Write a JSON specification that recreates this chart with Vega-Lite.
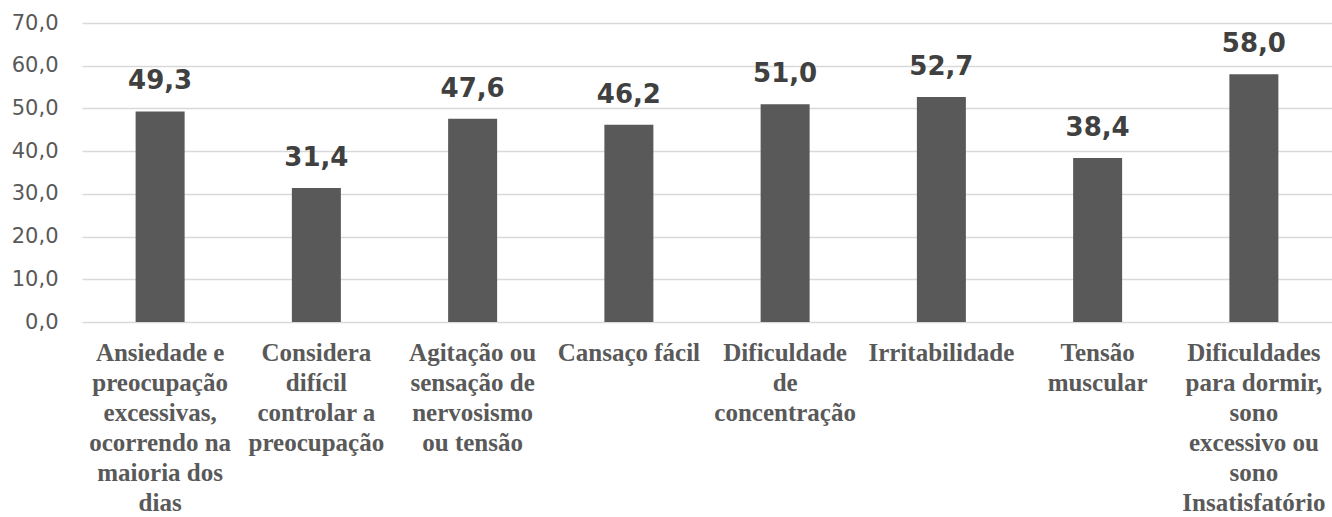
{
  "$schema": "https://vega.github.io/schema/vega-lite/v6.json",
  "autosize": {"type": "none"},
  "padding": {"left": 82, "top": 23, "right": 0, "bottom": 195},
  "width": 1250,
  "height": 299,
  "background": "white",
  "config": {
    "locale": {"number": {"decimal": ",", "thousands": ".", "grouping": [3], "currency": ["", ""]}},
    "view": {"stroke": null}
  },
  "data": {
    "values": [
      {"sintoma": "Ansiedade e|preocupação|excessivas,|ocorrendo na|maioria dos|dias", "valor": 49.3},
      {"sintoma": "Considera|difícil|controlar a|preocupação", "valor": 31.4},
      {"sintoma": "Agitação ou|sensação de|nervosismo|ou tensão", "valor": 47.6},
      {"sintoma": "Cansaço fácil", "valor": 46.2},
      {"sintoma": "Dificuldade|de|concentração", "valor": 51.0},
      {"sintoma": "Irritabilidade", "valor": 52.7},
      {"sintoma": "Tensão|muscular", "valor": 38.4},
      {"sintoma": "Dificuldades|para dormir,|sono|excessivo ou|sono|Insatisfatório", "valor": 58.0}
    ]
  },
  "encoding": {
    "x": {
      "field": "sintoma", "type": "nominal", "sort": null, "title": null,
      "scale": {"paddingInner": 0.2, "paddingOuter": 0.1},
      "axis": {
        "labelAngle": 0, "domain": false, "ticks": false,
        "labelExpr": "split(datum.label, '|')",
        "labelFont": "Liberation Serif", "labelFontWeight": "bold", "labelFontSize": 25,
        "labelLineHeight": 30, "labelColor": "#595959", "labelPadding": 18,
        "labelLimit": 0, "labelBaseline": "top"
      }
    },
    "y": {
      "field": "valor", "type": "quantitative", "title": null,
      "scale": {"domain": [0, 70], "nice": false},
      "axis": {
        "values": [0, 10, 20, 30, 40, 50, 60, 70], "format": ".1f",
        "domain": false, "ticks": false, "grid": true, "gridColor": "#d9d9d9", "gridWidth": 1.5,
        "labelFont": "DejaVu Sans", "labelFontSize": 21, "labelColor": "#595959", "labelPadding": 24
      }
    }
  },
  "layer": [
    {"mark": {"type": "bar", "color": "#595959", "size": 49}},
    {
      "mark": {"type": "text", "baseline": "alphabetic", "dy": -22, "font": "DejaVu Sans", "fontWeight": "bold", "fontSize": 26, "color": "#404040"},
      "encoding": {"text": {"field": "valor", "type": "quantitative", "format": ".1f"}}
    }
  ]
}
